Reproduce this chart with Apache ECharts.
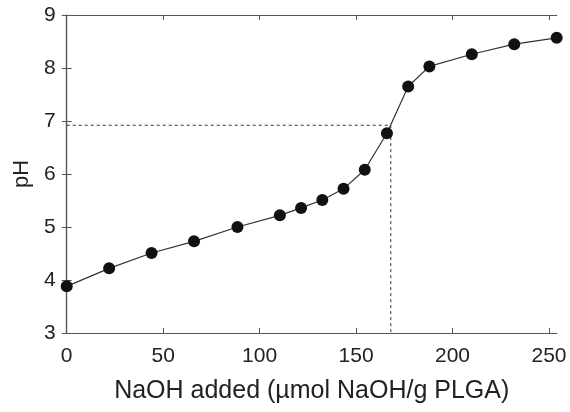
<!DOCTYPE html>
<html>
<head>
<meta charset="utf-8">
<script src="https://cdn.jsdelivr.net/npm/echarts@6/dist/echarts.min.js"></script>
<style>
  html, body { margin: 0; padding: 0; background: #fff; }
  #chart { width: 570px; height: 412px; }
</style>
</head>
<body>
<div id="chart"></div>
<script>
// Titration of PLGA: NaOH added vs pH
const naohAdded = [0, 22, 44, 66, 88.5, 110.5, 121.5, 132.5, 143.5, 154.5, 166, 177, 188, 210, 232, 254];
const phValues  = [3.88, 4.22, 4.51, 4.73, 5.00, 5.22, 5.36, 5.51, 5.72, 6.08, 6.77, 7.65, 8.03, 8.26, 8.45, 8.57];

// Equivalence point guide (dotted)
const equivX = 168;
const equivPH = 6.92;

const xTicks = [0, 50, 100, 150, 200, 250];
const yTicks = [3, 4, 5, 6, 7, 8, 9];

const xName = 'NaOH added (µmol NaOH/g PLGA)';
const yName = 'pH';

const font = 'Liberation Sans, Arial, Helvetica, sans-serif';
const axisColor = '#555';
const textColor = '#222';

const chart = echarts.init(document.getElementById('chart'), null, { renderer: 'canvas' });

const baseAxisLine = { show: true, lineStyle: { color: axisColor, width: 1.2 } };
const baseTick = { show: true, inside: true, length: 5, lineStyle: { color: axisColor, width: 1 } };

chart.setOption({
  animation: false,
  backgroundColor: '#fff',
  grid: { left: 66.7, right: 13.3, top: 15, bottom: 79 },
  xAxis: [
    {
      type: 'value', position: 'bottom',
      min: 0, max: 254,
      name: xName, nameLocation: 'middle', nameGap: 46,
      nameTextStyle: { fontFamily: font, fontSize: 25, color: textColor },
      axisLine: baseAxisLine,
      axisTick: Object.assign({}, baseTick, { customValues: xTicks }),
      axisLabel: { customValues: xTicks, fontFamily: font, fontSize: 21, color: textColor, margin: 13 },
      splitLine: { show: false }
    },
    {
      type: 'value', position: 'top',
      min: 0, max: 254,
      axisLine: baseAxisLine,
      axisTick: Object.assign({}, baseTick, { customValues: xTicks }),
      axisLabel: { show: false },
      splitLine: { show: false }
    }
  ],
  yAxis: [
    {
      type: 'value', position: 'left',
      min: 3, max: 9, interval: 1,
      name: yName, nameLocation: 'middle', nameGap: 34, nameRotate: 90,
      nameTextStyle: { fontFamily: font, fontSize: 22, color: textColor },
      axisLine: baseAxisLine,
      axisTick: Object.assign({}, baseTick, { customValues: yTicks }),
      axisLabel: { customValues: yTicks, fontFamily: font, fontSize: 21, color: textColor, margin: 11 },
      splitLine: { show: false }
    },
    {
      type: 'value', position: 'right',
      min: 3, max: 9, interval: 1,
      axisLine: baseAxisLine,
      axisTick: Object.assign({}, baseTick, { customValues: yTicks }),
      axisLabel: { show: false },
      splitLine: { show: false }
    }
  ],
  series: [
    {
      type: 'line',
      data: [[0, equivPH], [equivX, equivPH], [equivX, 3]],
      symbol: 'none',
      lineStyle: { color: '#333', width: 1, type: [3, 3] },
      silent: true,
      z: 1
    },
    {
      type: 'line',
      data: naohAdded.map((x, i) => [x, phValues[i]]),
      symbol: 'circle',
      symbolSize: 12,
      itemStyle: { color: '#111' },
      lineStyle: { color: '#333', width: 1.2 },
      clip: false,
      z: 2
    }
  ]
});
</script>
</body>
</html>
